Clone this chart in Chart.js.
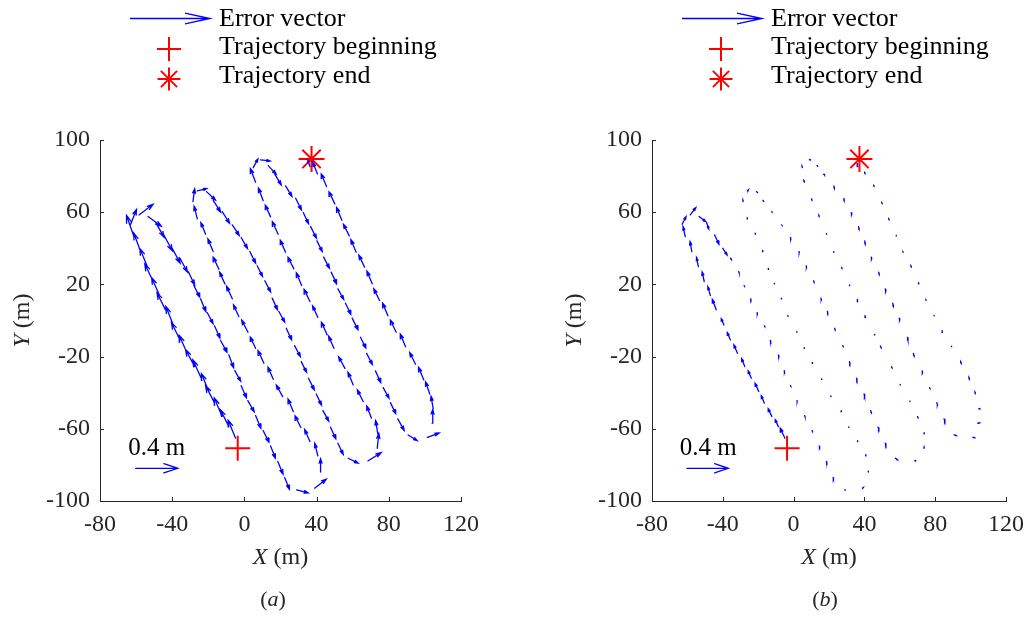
<!DOCTYPE html>
<html><head><meta charset="utf-8">
<script src="https://cdn.jsdelivr.net/npm/chart.js@4.4.1/dist/chart.umd.min.js"></script>
<style>
html,body{margin:0;padding:0;background:#fff;width:1033px;height:617px;overflow:hidden}
canvas{position:absolute;top:0}
#ca{left:0}
#cb{left:552px}
</style></head><body>
<canvas id="ca" width="552" height="617"></canvas>
<canvas id="cb" width="481" height="617"></canvas>
<script>
// ---------------- data ----------------
// trajectory sample positions (m)
const posX = [
-4.9,-8.6,-12.3,-16.5,-19.7,-23.9,-27.6,-31.7,-35.7,-39.4,-43.7,-47.0,-50.5,-53.8,-57.5,-61.2,
-63.0,-58.4,-53.4,-49.2,
-44.6,-40.0,-35.7,-31.1,-28.0,-24.3,-20.6,-16.5,-13.2,-8.6,-5.3,-1.8,1.9,6.2,10.4,14.5,18.5,22.3,
28.9,38.9,42.2,
40.7,36.3,31.3,27.1,21.2,16.0,10.8,6.2,2.0,-3.1,-6.7,-10.8,-14.1,-17.3,-21.5,-26.1,
-28.5,-26.1,-21.0,-17.3,
-12.3,-6.7,-1.8,3.0,7.1,11.3,15.4,19.1,23.2,27.8,31.5,35.5,39.8,43.5,47.7,51.8,57.5,
68.4,73.6,
73.9,70.4,65.8,60.3,55.7,49.6,45.9,40.7,36.3,31.7,27.4,22.8,18.7,14.5,10.4,6.2,4.9,
8.9,13.2,16.9,
22.8,28.4,32.6,36.7,40.2,43.9,48.1,51.8,56.0,59.7,64.3,67.7,72.6,76.9,80.9,85.0,90.7,
101.3,104.0,
104.6,102.7,99.4,94.8,89.3,84.1,79.5,74.9,70.8,66.6,61.9,58.1,54.0,50.1,45.5,40.5,36.3];
const posY = [
-65.2,-58.8,-53.2,-45.8,-39.4,-32.0,-25.5,-18.2,-10.8,-2.5,5.9,13.8,21.6,29.9,38.2,46.5,
53.3,58.5,57.6,54.4,
47.4,40.0,34.5,27.1,19.4,12.0,4.4,-3.0,-11.1,-19.1,-27.8,-36.1,-44.4,-52.7,-61.0,-69.5,-78.1,-87.0,
-93.8,-92.9,-84.0,
-75.0,-67.1,-59.3,-50.5,-42.2,-32.6,-23.7,-15.4,-6.5,2.2,12.0,20.3,28.4,38.2,47.8,56.3,
65.9,71.8,71.4,66.6,
60.3,53.0,46.0,38.2,30.3,22.0,12.4,5.0,-4.3,-13.9,-22.8,-32.0,-40.7,-49.9,-59.1,-68.0,-76.3,
-77.8,-70.8,
-62.8,-54.1,-44.9,-35.7,-26.5,-15.4,-8.0,1.7,10.5,19.4,28.6,37.8,47.8,57.4,66.4,76.6,84.7,
89.0,85.8,81.0,
74.6,67.7,59.8,52.0,44.1,35.1,26.8,17.5,9.6,1.3,-9.3,-18.2,-27.9,-37.2,-45.5,-54.5,-63.4,
-64.7,-56.9,
-49.0,-40.7,-32.9,-24.2,-14.5,-6.5,2.6,11.1,20.3,29.5,37.8,46.9,55.6,64.6,74.2,81.2,85.3];

// error vectors, panel (a) (m)
const errUa = [
-0.07,-0.08,-0.075,-0.085,-0.07,-0.08,-0.085,-0.075,-0.08,-0.07,-0.08,-0.075,-0.08,-0.07,-0.065,-0.07,
0.055,0.133,0.126,0.08,
0.08,0.075,0.07,0.06,0.055,0.05,0.055,0.05,0.06,0.045,0.055,0.05,0.06,0.05,0.055,0.045,0.05,0.045,
0.11,0.11,0.0,
-0.03,-0.05,-0.055,-0.05,-0.06,-0.05,-0.055,-0.05,-0.06,-0.05,-0.055,-0.05,-0.055,-0.05,-0.045,-0.03,
0.016,0.09,0.085,0.07,
0.07,0.065,0.06,0.055,0.05,0.055,0.05,0.055,0.05,0.055,0.05,0.055,0.05,0.055,0.05,0.05,0.094,
0.126,0.015,
-0.02,-0.045,-0.055,-0.05,-0.06,-0.05,-0.055,-0.05,-0.055,-0.05,-0.055,-0.05,-0.055,-0.05,-0.045,-0.05,0.044,
0.092,0.075,0.06,
0.06,0.055,0.05,0.055,0.05,0.055,0.05,0.055,0.05,0.055,0.05,0.055,0.05,0.055,0.05,0.06,0.085,
0.113,0.006,
-0.02,-0.04,-0.05,-0.055,-0.05,-0.055,-0.05,-0.055,-0.05,-0.055,-0.05,-0.055,-0.05,-0.055,-0.05,-0.045,-0.02];
const errVa = [
0.17,0.16,0.175,0.165,0.17,0.175,0.16,0.17,0.165,0.175,0.16,0.17,0.165,0.17,0.175,0.2,
0.14,0.1,-0.092,-0.14,
-0.15,-0.14,-0.13,-0.125,-0.11,-0.12,-0.105,-0.115,-0.11,-0.12,-0.1,-0.115,-0.105,-0.12,-0.11,-0.115,-0.12,-0.11,
-0.03,0.085,0.126,
0.12,0.115,0.11,0.12,0.11,0.115,0.12,0.105,0.115,0.11,0.12,0.11,0.115,0.12,0.11,0.12,
0.12,0.022,-0.079,-0.11,
-0.11,-0.1,-0.105,-0.11,-0.1,-0.105,-0.11,-0.1,-0.11,-0.105,-0.1,-0.11,-0.105,-0.1,-0.11,-0.105,-0.047,
0.079,0.14,
0.125,0.115,0.11,0.12,0.11,0.115,0.12,0.11,0.115,0.12,0.11,0.115,0.12,0.11,0.12,0.13,0.082,
-0.01,-0.08,-0.1,
-0.1,-0.11,-0.105,-0.11,-0.1,-0.105,-0.11,-0.1,-0.105,-0.11,-0.1,-0.105,-0.11,-0.1,-0.105,-0.11,-0.053,
0.04,0.13,
0.12,0.115,0.12,0.11,0.12,0.115,0.12,0.11,0.12,0.115,0.12,0.11,0.12,0.115,0.12,0.11,0.06];

// error vectors, panel (b) (m)
const errUb = [
-0.045,-0.03,-0.035,-0.03,-0.035,-0.03,-0.03,-0.035,-0.03,-0.025,-0.038,-0.025,-0.02,-0.018,-0.017,-0.022,
0.038,0.054,0.063,0.022,
0.041,0.041,0.01,0.006,0.004,0.003,0.002,0.004,0.005,0.004,0.003,0.004,0.003,0.005,0.004,0.003,0.005,0.004,
0.006,0.008,0.0,
0.002,-0.003,-0.002,-0.004,-0.003,-0.002,-0.004,-0.003,-0.002,-0.003,-0.004,-0.002,-0.003,-0.004,-0.003,-0.002,
-0.002,0.01,0.012,0.008,
0.002,0.003,0.003,0.004,0.003,0.005,0.005,0.003,0.004,0.003,0.005,0.005,0.006,0.008,0.008,0.006,0.02,
0.01,0.002,
-0.003,-0.006,-0.002,-0.002,-0.006,-0.01,-0.003,-0.006,-0.005,-0.002,-0.005,-0.002,-0.002,-0.004,-0.004,-0.008,-0.003,
0.01,0.008,0.012,
0.004,0.003,0.004,0.005,0.004,0.003,0.004,0.005,0.006,0.004,0.005,0.006,0.003,0.003,0.008,0.008,0.02,
0.015,0.018,
0.012,-0.004,-0.006,-0.007,-0.002,-0.003,-0.002,-0.002,-0.004,-0.006,-0.002,-0.002,-0.004,-0.004,-0.005,-0.006,-0.006];
const errVb = [
0.095,0.065,0.075,0.07,0.08,0.07,0.075,0.08,0.07,0.06,0.1,0.085,0.09,0.085,0.095,0.094,
0.072,0.069,-0.047,-0.063,
-0.088,-0.063,-0.01,-0.01,-0.006,-0.008,-0.004,-0.006,-0.01,-0.008,-0.007,-0.006,-0.006,-0.008,-0.007,-0.008,-0.01,-0.012,
-0.004,0.006,0.01,
0.012,0.008,0.006,0.01,0.007,0.005,0.009,0.006,0.004,0.008,0.007,0.005,0.009,0.012,0.01,0.012,
0.015,0.012,-0.01,-0.012,
-0.004,-0.006,-0.006,-0.008,-0.006,-0.015,-0.018,-0.008,-0.015,-0.008,-0.015,-0.018,-0.025,-0.022,-0.02,-0.018,-0.015,
0.004,0.012,
0.012,0.015,0.005,0.006,0.016,0.022,0.006,0.018,0.02,0.006,0.015,0.005,0.006,0.015,0.016,0.018,0.015,
0.004,-0.006,-0.004,
-0.025,-0.022,-0.02,-0.025,-0.03,-0.02,-0.022,-0.026,-0.03,-0.02,-0.024,-0.026,-0.008,-0.008,-0.022,-0.024,-0.006,
-0.004,0.002,
0.004,0.018,0.025,0.024,0.006,0.014,0.005,0.006,0.012,0.015,0.005,0.005,0.012,0.012,0.014,0.012,0.03];

const startPos = [{x: -3.7, y: -70.8}];
const endPos = [{x: 37.2, y: 89.5}];
const xTicks = [-80, -40, 0, 40, 80, 120];
const yTicks = [-100, -60, -20, 20, 60, 100];
const legendLabels = ['Error vector', 'Trajectory beginning', 'Trajectory end'];
const refLength = 0.4;          // m, reference arrow
const refLabel = '0.4 m';

// ---------------- presentation ----------------
const quiverScale = 58.5;       // plot units per metre of error
const refAnchor = {x: -60.3, y: -81.9};
const refTextAnchor = {x: -64.3, y: -74.5};
const FONT = "'Liberation Serif', 'Times New Roman', serif";
const AXIS = '#262626';
const BLUE = '#0000ff';
const RED = '#ff0000';

function quiverPoints(xs, ys, us, vs, s) {
  const out = [];
  const a = 0.33, b = 0.33;
  for (let i = 0; i < xs.length; i++) {
    const x = xs[i], y = ys[i], u = us[i] * s, v = vs[i] * s;
    const tx = x + u, ty = y + v;
    out.push({x, y}, {x: tx, y: ty}, {x: tx, y: null});
    out.push({x: tx - a * (u + b * v), y: ty - a * (v - b * u)},
             {x: tx, y: ty},
             {x: tx - a * (u - b * v), y: ty - a * (v + b * u)},
             {x: tx, y: null});
  }
  return out;
}

function overlay(caption) {
  return {
    id: 'overlay' + caption,
    afterDraw(chart) {
      const ctx = chart.ctx, xs = chart.scales.x, ys = chart.scales.y, ca = chart.chartArea;
      ctx.save();
      // inward ticks
      ctx.strokeStyle = AXIS; ctx.lineWidth = 1;
      ctx.beginPath();
      xTicks.forEach(t => { const p = Math.round(xs.getPixelForValue(t)) + 0.5; ctx.moveTo(p, ca.bottom); ctx.lineTo(p, ca.bottom - 4); });
      yTicks.forEach(t => { const p = Math.round(ys.getPixelForValue(t)) + 0.5; ctx.moveTo(ca.left, p); ctx.lineTo(ca.left + 4, p); });
      ctx.stroke();
      // axis titles
      ctx.fillStyle = AXIS; ctx.textBaseline = 'alphabetic';
      const drawMixed = (cx, cy, italicPart, rest) => {
        ctx.font = 'italic 24px ' + FONT; const w1 = ctx.measureText(italicPart).width;
        ctx.font = '24px ' + FONT; const w2 = ctx.measureText(rest).width;
        let x0 = cx - (w1 + w2) / 2;
        ctx.textAlign = 'left';
        ctx.font = 'italic 24px ' + FONT; ctx.fillText(italicPart, x0, cy);
        ctx.font = '24px ' + FONT; ctx.fillText(rest, x0 + w1, cy);
      };
      const cx = (ca.left + ca.right) / 2, cy = (ca.top + ca.bottom) / 2;
      drawMixed(cx, 564, 'X', ' (m)');
      ctx.save(); ctx.translate(29, cy); ctx.rotate(-Math.PI / 2); drawMixed(0, 0, 'Y', ' (m)'); ctx.restore();
      // caption
      ctx.font = '22px ' + FONT; const pw = ctx.measureText('(').width;
      ctx.font = 'italic 22px ' + FONT; const lw = ctx.measureText(caption).width;
      let c0 = 273 - (2 * pw + lw) / 2;
      ctx.textAlign = 'left';
      ctx.font = '22px ' + FONT; ctx.fillText('(', c0, 606);
      ctx.font = 'italic 22px ' + FONT; ctx.fillText(caption, c0 + pw, 606);
      ctx.font = '22px ' + FONT; ctx.fillText(')', c0 + pw + lw, 606);
      // reference label
      ctx.fillStyle = '#000';
      ctx.font = '25px ' + FONT;
      ctx.fillText(refLabel, xs.getPixelForValue(refTextAnchor.x), ys.getPixelForValue(refTextAnchor.y));
      // legend
      ctx.font = '26px ' + FONT;
      ctx.fillText(legendLabels[0], 219, 26);
      ctx.fillText(legendLabels[1], 219, 53.5);
      ctx.fillText(legendLabels[2], 219, 83);
      ctx.strokeStyle = BLUE; ctx.lineWidth = 1.3;
      ctx.beginPath();
      ctx.moveTo(130, 18.5); ctx.lineTo(210, 18.5);
      ctx.moveTo(185, 13.2); ctx.lineTo(210, 18.5); ctx.lineTo(185, 23.8);
      ctx.stroke();
      ctx.strokeStyle = RED; ctx.lineWidth = 2;
      Chart.helpers.drawPoint(ctx, {pointStyle: 'cross', radius: 12, rotation: 0, borderWidth: 2}, 169, 49);
      Chart.helpers.drawPoint(ctx, {pointStyle: 'star', radius: 11.5, rotation: 0, borderWidth: 2}, 169, 79);
      ctx.restore();
    }
  };
}

function makeChart(id, us, vs, caption, rightPad) {
  const arrowStyle = {type: 'scatter', showLine: true, borderColor: BLUE, borderWidth: 1.3,
    pointRadius: 0, spanGaps: false, borderCapStyle: 'round', borderJoinStyle: 'miter'};
  return new Chart(document.getElementById(id), {
    type: 'scatter',
    data: {datasets: [
      Object.assign({label: legendLabels[0], data: quiverPoints(posX, posY, us, vs, quiverScale)}, arrowStyle),
      Object.assign({label: 'ref', data: quiverPoints([refAnchor.x], [refAnchor.y], [refLength], [0], quiverScale)}, arrowStyle),
      {label: legendLabels[1], data: startPos, pointStyle: 'cross', pointRadius: 12.5, pointBorderWidth: 2,
       borderWidth: 2, pointBorderColor: RED, borderColor: RED, backgroundColor: RED, showLine: false},
      {label: legendLabels[2], data: endPos, pointStyle: 'star', pointRadius: 13, pointBorderWidth: 2,
       borderWidth: 2, pointBorderColor: RED, borderColor: RED, backgroundColor: RED, showLine: false}
    ]},
    options: {
      responsive: false, animation: false, events: [],
      layout: {padding: {top: 140, left: 0, right: rightPad, bottom: 0}},
      plugins: {legend: {display: false}, tooltip: {enabled: false}},
      scales: {
        x: {type: 'linear', min: -80, max: 120,
            afterBuildTicks: s => { s.ticks = xTicks.map(v => ({value: v})); },
            afterFit: s => { s.height = 116; },
            grid: {display: false, drawTicks: false}, border: {display: true, color: AXIS, width: 1},
            ticks: {font: {family: FONT, size: 24}, color: AXIS, padding: 9, maxRotation: 0, callback: v => String(v)}},
        y: {type: 'linear', min: -100, max: 100,
            afterBuildTicks: s => { s.ticks = yTicks.map(v => ({value: v})); },
            afterFit: s => { s.width = 100; },
            grid: {display: false, drawTicks: false}, border: {display: true, color: AXIS, width: 1},
            ticks: {font: {family: FONT, size: 24}, color: AXIS, padding: 10, callback: v => String(v)}}
      }
    },
    plugins: [overlay(caption)]
  });
}

makeChart('ca', errUa, errVa, 'a', 91);
makeChart('cb', errUb, errVb, 'b', 20);
</script>
</body></html>
